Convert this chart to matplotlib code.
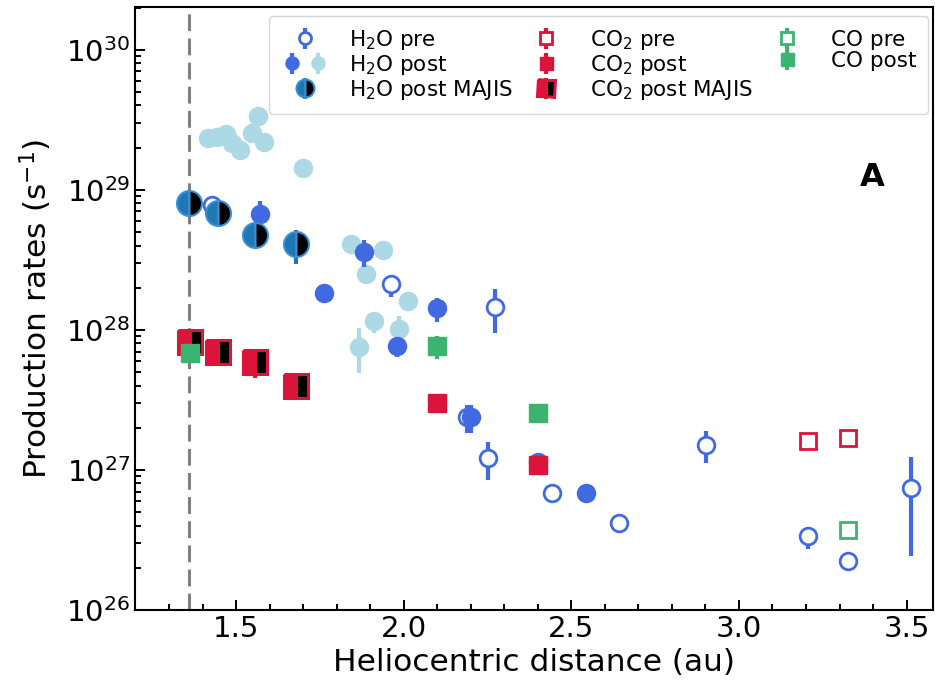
import numpy as np
import matplotlib
matplotlib.use("Agg")
import matplotlib.pyplot as plt
from matplotlib.legend_handler import HandlerTuple

# ---------------- data ----------------
# H2O pre (open circles)
h2o_pre_x  = [1.427, 1.962, 2.190, 2.252, 2.272, 2.443, 2.642, 2.903, 3.205, 3.325, 3.514]
h2o_pre_y  = [7.8e28, 2.11e28, 2.40e27, 1.21e27, 1.45e28, 6.82e26, 4.21e26, 1.51e27, 3.38e26, 2.24e26, 7.4e26]
h2o_pre_lo = [np.nan, 1.71e28, 1.83e27, 8.48e26, 9.46e27, np.nan, np.nan, 1.12e27, 2.72e26, np.nan, 2.44e26]
h2o_pre_hi = [np.nan, 2.47e28, 2.91e27, 1.58e27, 1.96e28, np.nan, np.nan, 1.90e27, 3.94e26, np.nan, 1.23e27]

# H2O post (filled, royal blue)
h2o_post_x  = [1.570, 1.761, 1.880, 1.981, 2.100, 2.199, 2.401, 2.543]
h2o_post_y  = [6.74e28, 1.84e28, 3.58e28, 7.69e27, 1.43e28, 2.40e27, 1.14e27, 6.82e26]
h2o_post_lo = [5.5e28, np.nan, 2.83e28, 6.44e27, 1.13e28, 1.83e27, np.nan, np.nan]
h2o_post_hi = [8.25e28, np.nan, 4.39e28, 8.6e27, 1.68e28, 2.91e27, np.nan, np.nan]

# H2O post (filled, light blue)
h2o_post2_x  = [1.417, 1.442, 1.470, 1.487, 1.512, 1.547, 1.565, 1.584, 1.698,
                1.841, 1.888, 1.937, 1.865, 1.912, 1.987, 2.012]
h2o_post2_y  = [2.34e29, 2.40e29, 2.50e29, 2.16e29, 1.91e29, 2.54e29, 3.34e29, 2.19e29, 1.43e29,
                4.11e28, 2.50e28, 3.71e28, 7.6e27, 1.15e28, 1.01e28, 1.62e28]
h2o_post2_lo = [np.nan] * 12 + [4.95e27, 9.5e27, 8.2e27, np.nan]
h2o_post2_hi = [np.nan] * 12 + [1.03e28, 1.35e28, 1.25e28, np.nan]

# H2O post MAJIS
h2o_majis_x  = [1.360, 1.445, 1.555, 1.678]
h2o_majis_y  = [8.04e28, 6.82e28, 4.77e28, 4.09e28]
h2o_majis_lo = [np.nan, np.nan, np.nan, 2.96e28]
h2o_majis_hi = [np.nan, np.nan, np.nan, 5.18e28]

# CO2 pre (open squares)
co2_pre_x = [3.205, 3.325]
co2_pre_y = [1.61e27, 1.70e27]

# CO2 post (filled squares)
co2_post_x  = [2.100, 2.401]
co2_post_y  = [3.01e27, 1.09e27]

# CO2 post MAJIS
co2_majis_x  = [1.362, 1.447, 1.555, 1.678]
co2_majis_y  = [8.24e27, 6.93e27, 5.94e27, 4.0e27]
co2_majis_lo = [np.nan, np.nan, 4.52e27, np.nan]
co2_majis_hi = [np.nan, np.nan, 6.4e27, np.nan]

# CO pre / post
co_pre_x  = [3.325]
co_pre_y  = [3.73e26]
co_post_x  = [1.362, 2.100, 2.401]
co_post_y  = [6.82e27, 7.69e27, 2.54e27]
co_post_lo = [np.nan, 6.18e27, np.nan]
co_post_hi = [np.nan, 9.06e27, np.nan]

perihelion = 1.36

xticks = [1.5, 2.0, 2.5, 3.0, 3.5]

# ---------------- style ----------------
C_H2O = "#4169E1"
C_H2O_L = "#ADD8E6"
C_MAJ = "#1f77b4"
C_CO2 = "#DC143C"
C_CO = "#3CB371"


def yerr_from(y, lo=None, hi=None):
    y = np.asarray(y, float)
    if lo is None:
        return np.zeros((2, len(y)))
    lo = np.asarray(lo, float)
    hi = np.asarray(hi, float)
    low = np.where(np.isnan(lo), 0, y - lo)
    up = np.where(np.isnan(hi), 0, hi - y)
    return np.vstack([low, up])


fig = plt.figure(figsize=(9.35, 6.88), dpi=100)
ax = fig.add_axes([0.1444, 0.1134, 0.8535, 0.8765])

ax.axvline(perihelion, color="grey", ls="--", lw=2.2, dashes=(5.5, 2.4), zorder=1)

ekw = dict(ls="none", elinewidth=3, capsize=0)

h_post2 = ax.errorbar(h2o_post2_x, h2o_post2_y, yerr=yerr_from(h2o_post2_y, h2o_post2_lo, h2o_post2_hi),
                      marker="o", ms=13, color=C_H2O_L, mec=C_H2O_L, zorder=2, **ekw)
h_pre = ax.errorbar(h2o_pre_x, h2o_pre_y, yerr=yerr_from(h2o_pre_y, h2o_pre_lo, h2o_pre_hi),
                    marker="o", ms=12, mfc="white", mec=C_H2O, mew=2, color=C_H2O, zorder=3, **ekw)
h_post = ax.errorbar(h2o_post_x, h2o_post_y, yerr=yerr_from(h2o_post_y, h2o_post_lo, h2o_post_hi),
                     marker="o", ms=13, color=C_H2O, mec=C_H2O, zorder=4, **ekw)
h_majis = ax.errorbar(h2o_majis_x, h2o_majis_y, yerr=yerr_from(h2o_majis_y, h2o_majis_lo, h2o_majis_hi),
                      marker="o", ms=18, color=C_MAJ, mfc=C_MAJ, mfcalt="black", fillstyle="left",
                      mec="#3a8fd4", mew=1.5, zorder=5, **ekw)
h_co2pre = ax.errorbar(co2_pre_x, co2_pre_y, yerr=yerr_from(co2_pre_y),
                       marker="s", ms=11.5, mfc="white", mec=C_CO2, mew=2, color=C_CO2, zorder=6, **ekw)
h_co2post = ax.errorbar(co2_post_x, co2_post_y, yerr=yerr_from(co2_post_y),
                        marker="s", ms=13, color=C_CO2, mec=C_CO2, zorder=6, **ekw)
h_co2maj = ax.errorbar(co2_majis_x, co2_majis_y, yerr=yerr_from(co2_majis_y, co2_majis_lo, co2_majis_hi),
                       marker="s", ms=17, color=C_CO2, mfc=C_CO2, mfcalt="black", fillstyle="left",
                       mec=C_CO2, mew=2.2, zorder=6, **ekw)
h_copre = ax.errorbar(co_pre_x, co_pre_y, yerr=yerr_from(co_pre_y),
                      marker="s", ms=11.5, mfc="white", mec=C_CO, mew=2, color=C_CO, zorder=7, **ekw)
h_copost = ax.errorbar(co_post_x, co_post_y, yerr=yerr_from(co_post_y, co_post_lo, co_post_hi),
                       marker="s", ms=13, color=C_CO, mec=C_CO, zorder=7, **ekw)

ax.set_yscale("log")
ax.set_xlim(1.198, 3.579)
ax.set_ylim(1e26, 2.02e30)
ax.set_xticks(xticks)
ax.set_xticks(np.arange(1.3, 3.6, 0.1), minor=True)

ax.tick_params(which="both", direction="in", labelsize=21, width=1.4)
ax.tick_params(which="major", length=7)
ax.tick_params(which="minor", length=4)
for sp in ax.spines.values():
    sp.set_linewidth(1.5)

ax.set_xlabel("Heliocentric distance (au)", fontsize=22.5)
ax.set_ylabel("Production rates (s$^{-1}$)", fontsize=22.5, labelpad=9)

ax.text(0.9236, 0.718, "A", transform=ax.transAxes, fontsize=23, fontweight="bold",
        ha="center", va="center")

handles = [h_pre, (h_post, h_post2), h_majis, h_co2pre, h_co2post, h_co2maj, h_copre, h_copost]
labels = ["H$_2$O pre", "H$_2$O post", "H$_2$O post MAJIS",
          "CO$_2$ pre", "CO$_2$ post", "CO$_2$ post MAJIS",
          "CO pre", "CO post"]
leg = ax.legend(handles, labels, ncol=3, loc="upper right", bbox_to_anchor=(0.9937, 0.985),
                fontsize=15.5,
                handler_map={tuple: HandlerTuple(ndivide=None, pad=0.2)},
                markerscale=0.72, columnspacing=0.45, handletextpad=0.95,
                labelspacing=0.05, borderaxespad=0.0, borderpad=0.55, handlelength=2.2)

fig.savefig("out.png", dpi=100)
